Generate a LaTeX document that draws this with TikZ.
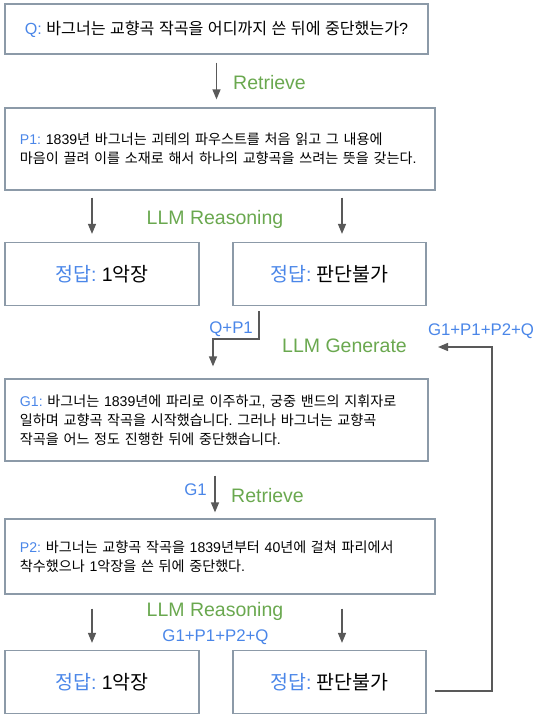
\documentclass[tikz,border=0pt]{standalone}
\usepackage{fontspec}
\setmainfont{Liberation Sans}
\newfontfamily\krfont{Noto Sans CJK KR}
\usetikzlibrary{arrows.meta}
\frenchspacing
\XeTeXinterchartokenstate=1
\newXeTeXintercharclass\krclass
\makeatletter
\count@="AC00
\loop
  \XeTeXcharclass\count@=\krclass
  \ifnum\count@<"D7A3 \advance\count@ by 1
\repeat
\makeatother
\XeTeXinterchartoks 0 \krclass = {\begingroup\krfont}
\XeTeXinterchartoks 4095 \krclass = {\begingroup\krfont}
\XeTeXinterchartoks \krclass 0 = {\endgroup}
\XeTeXinterchartoks \krclass 4095 = {\endgroup}
\definecolor{boxc}{RGB}{140,154,168}
\definecolor{arrc}{RGB}{89,89,89}
\definecolor{lb}{RGB}{74,134,232}
\definecolor{gr}{RGB}{106,168,79}
\newcommand{\lab}[1]{\textcolor{lb}{#1}}
\tikzset{
  box/.style={draw=boxc, line width=1.2bp, inner sep=0pt, text=black},
  qbox/.style={box, minimum width=423bp, minimum height=50bp, font=\fontsize{16.1bp}{18bp}\selectfont},
  tbox/.style={box, inner xsep=15bp, align=left, font=\fontsize{14.1bp}{19.2bp}\selectfont},
  abox/.style={box, minimum width=194bp, minimum height=63bp, font=\fontsize{19.5bp}{22bp}\selectfont},
  arr/.style={draw=arrc, line width=1.3bp, -{Triangle[width=8bp,length=10bp]}},
  glab/.style={text=gr, font=\fontsize{19.5bp}{22bp}\selectfont, inner sep=0pt},
  blab/.style={text=lb, font=\fontsize{16.8bp}{20bp}\selectfont, inner sep=0pt}
}
\begin{document}
\begin{tikzpicture}[x=1bp,y=-1bp]
\useasboundingbox (0,0) rectangle (536,715);
% boxes
\node[qbox] (q) at (216.5,29) {\lab{Q:} 바그너는 교향곡 작곡을 어디까지 쓴 뒤에 중단했는가?};
\node[tbox, text width=400bp, minimum height=82bp] (p1) at (220,149) {\lab{P1:} 1839년 바그너는 괴테의 파우스트를 처음 읽고 그 내용에\\마음이 끌려 이를 소재로 해서 하나의 교향곡을 쓰려는 뜻을 갖는다.};
\node[abox] (a1) at (102,274) {\lab{정답:} 1악장};
\node[abox, minimum width=193bp] (a2) at (329.5,274) {\lab{정답:} 판단불가};
\node[tbox, text width=393bp, minimum height=82bp] (g1) at (216.5,420) {\lab{G1:} 바그너는 1839년에 파리로 이주하고, 궁중 밴드의 지휘자로\\일하며 교향곡 작곡을 시작했습니다. 그러나 바그너는 교향곡\\작곡을 어느 정도 진행한 뒤에 중단했습니다.};
\node[tbox, text width=400bp, minimum height=75bp] (p2) at (220,556.5) {\lab{P2:} 바그너는 교향곡 작곡을 1839년부터 40년에 걸쳐 파리에서\\착수했으나 1악장을 쓴 뒤에 중단했다.};
\node[abox] (b1) at (102,682) {\lab{정답:} 1악장};
\node[abox, minimum width=193bp] (b2) at (329.5,682) {\lab{정답:} 판단불가};
% labels
\node[glab, anchor=west] (lret1) at (233,83) {Retrieve};
\node[glab] (lrea1) at (215,219) {LLM Reasoning};
\node[blab, anchor=east] (lqp) at (253,329) {Q+P1};
\node[glab] (lgen) at (344.5,346) {LLM Generate};
\node[blab] (lfb) at (481,331) {G1+P1+P2+Q};
\node[blab, anchor=east] (lg1) at (207,490) {G1};
\node[glab, anchor=west] (lret2) at (231,496) {Retrieve};
\node[glab] (lrea2) at (215,611) {LLM Reasoning};
\node[blab] (lall) at (215.5,637) {G1+P1+P2+Q};
% helper coordinates
\coordinate (cL) at (92,0);
\coordinate (cR) at (342,0);
\coordinate (cG) at (215,0);
\coordinate (cQ) at (259,0);
\coordinate (bend) at (213,339);
\coordinate (fbTop) at (492,347);
\coordinate (fbEnd) at (438,347);
% connectors
\draw[arr, shorten <=8bp, shorten >=8bp] (q.south) -- (q.south |- p1.north);
\draw[arr, shorten <=7bp, shorten >=8bp] (cL |- p1.south) -- (cL |- a1.north);
\draw[arr, shorten <=7bp, shorten >=8bp] (cR |- p1.south) -- (cR |- a2.north);
\draw[arr, shorten <=5bp, shorten >=12bp] (cQ |- a2.south) |- (bend) -- (bend |- g1.north);
\draw[arr, shorten <=14bp, shorten >=6bp] (cG |- g1.south) -- (cG |- p2.north);
\draw[arr, shorten <=14bp, shorten >=7bp] (cL |- p2.south) -- (cL |- b1.north);
\draw[arr, shorten <=14bp, shorten >=7bp] (cR |- p2.south) -- (cR |- b2.north);
\draw[arr] ([xshift=8bp,yshift=-9bp]b2.east) -| (fbTop) -- (fbEnd);
\end{tikzpicture}
\end{document}
